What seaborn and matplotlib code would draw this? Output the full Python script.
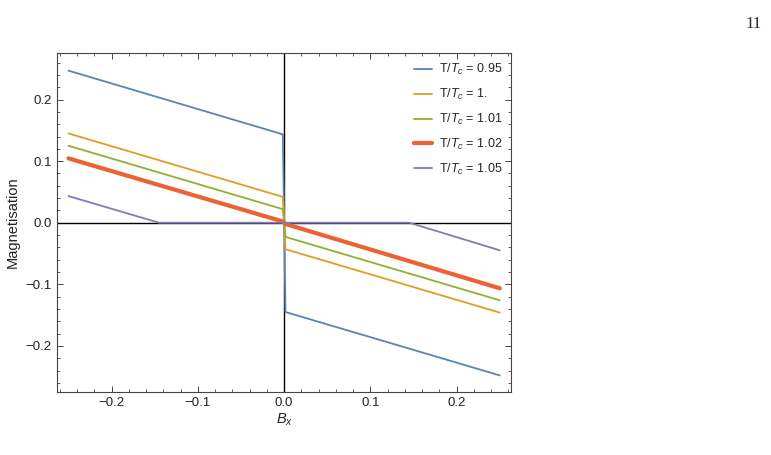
import numpy as np
import pandas as pd
import matplotlib
matplotlib.use('Agg')
import matplotlib.pyplot as plt
from matplotlib.ticker import MultipleLocator
import seaborn as sns

# values (field B_x, magnetisation)
labels = ['0.95', '1.', '1.01', '1.02', '1.05']
colors = ['#5E81B5', '#E19C24', '#8FB032', '#EB6235', '#8778B3']
widths = [1.3, 1.3, 1.3, 3.0, 1.3]

bx_jump = [-0.25, -0.0015, 0.0015, 0.25]
m_095 = [0.247, 0.1435, -0.145, -0.248]
m_100 = [0.145, 0.042, -0.043, -0.146]
m_101 = [0.125, 0.022, -0.023, -0.126]
m_102 = [0.1045, 0.002, -0.002, -0.1065]

bx_105 = [-0.25, -0.145, 0.0, 0.145, 0.25]
m_105 = [0.0433, 0.0, 0.0, 0.0, -0.0448]

series = [(bx_jump, m_095), (bx_jump, m_100), (bx_jump, m_101),
          (bx_jump, m_102), (bx_105, m_105)]

sns.set_theme(style='ticks')
plt.rcParams['font.family'] = ['Liberation Sans', 'DejaVu Sans']
plt.rcParams['mathtext.fontset'] = 'custom'
plt.rcParams['mathtext.rm'] = 'Liberation Sans'
plt.rcParams['mathtext.it'] = 'Liberation Sans:italic'

fig = plt.figure(figsize=(7.71, 4.55), dpi=100)
ax = fig.add_axes([0.0743, 0.139, 0.5885, 0.745])

# axes through origin
ax.axhline(0, color='black', lw=1.0, zorder=1)
ax.axvline(0, color='black', lw=1.0, zorder=1)

for (bx, m), lab, col, lw in zip(series, labels, colors, widths):
    df = pd.DataFrame({'Bx': bx, 'M': m})
    sns.lineplot(data=df, x='Bx', y='M', sort=False, estimator=None,
                 color=col, lw=lw, label=r'T/$T_c$ = ' + lab, ax=ax, zorder=2)

ax.set_xlim(-0.263, 0.263)
ax.set_ylim(-0.2745, 0.276)
ax.xaxis.set_minor_locator(MultipleLocator(0.02))
ax.yaxis.set_minor_locator(MultipleLocator(0.02))
ax.set_xticks([-0.2, -0.1, 0.0, 0.1, 0.2])
ax.set_xticklabels(['\u22120.2', '\u22120.1', '0.0', '0.1', '0.2'])
ax.set_yticks([-0.2, -0.1, 0.0, 0.1, 0.2])
ax.set_yticklabels(['\u22120.2', '\u22120.1', '0.0', '0.1', '0.2'])

frame_col = '#444444'
for s in ax.spines.values():
    s.set_color(frame_col)
    s.set_linewidth(0.8)
ax.tick_params(which='both', direction='in', top=True, right=True,
               color=frame_col, labelsize=9.5, labelcolor='#222222', pad=4)
ax.tick_params(which='major', length=4.3, width=0.7)
ax.tick_params(which='minor', length=2.2, width=0.6)

ax.set_xlabel(r'$B_x$', fontsize=10.5, color='#222222', labelpad=2)
ax.set_ylabel('Magnetisation', fontsize=10.5, color='#222222', labelpad=4)

ax.legend(loc='upper left', bbox_to_anchor=(0.786, 0.973), frameon=False,
          fontsize=9, handlelength=1.45, handletextpad=0.55,
          labelspacing=0.79, borderpad=0, borderaxespad=0)

fig.text(0.977, 0.948, '11', fontsize=12, family='Liberation Serif',
         ha='center', va='center')

fig.savefig('out.png', dpi=100)
